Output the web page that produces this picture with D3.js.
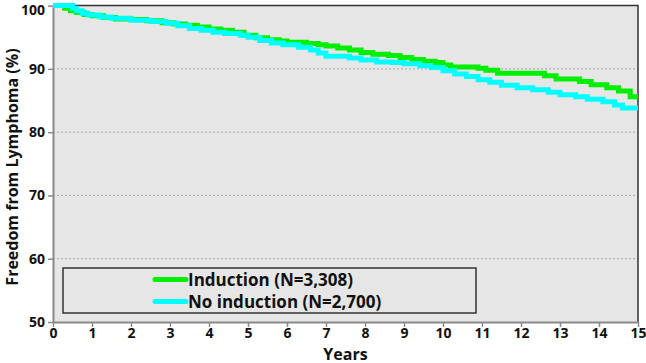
<!DOCTYPE html>
<html><head><meta charset="utf-8">
<script src="https://cdn.jsdelivr.net/npm/d3@7"></script>
<style>body{margin:0;background:#fff}svg{display:block}text{font-family:"Open Sans",Lato,sans-serif;font-weight:bold;fill:#111}</style>
</head><body><svg id="c" width="646" height="363"></svg>
<script>
const seriesNames = ["Induction (N=3,308)", "No induction (N=2,700)"];
const seriesColors = ["#00ee00", "#00ffff"];
const inductionT = [0,0.3,0.45,0.6,0.8,1.0,1.3,1.6,2.0,2.4,2.8,3.1,3.4,3.7,4.0,4.3,4.6,4.9,5.2,5.5,5.8,6.0,6.5,6.8,7.0,7.3,7.6,7.9,8.2,8.6,8.9,9.2,9.5,9.8,10.0,10.2,10.9,11.1,11.4,12.6,12.9,13.5,13.8,14.2,14.5,14.8,15];
const inductionS = [100,99.6,99.2,98.9,98.6,98.4,98.1,97.9,97.8,97.6,97.3,97.1,96.9,96.6,96.3,96.1,95.8,95.3,94.9,94.6,94.4,94.2,94.0,93.8,93.6,93.3,93.0,92.6,92.3,92.1,91.8,91.5,91.2,91.0,90.6,90.3,90.1,89.8,89.3,88.9,88.4,88.0,87.5,87.0,86.5,85.6,85.6];
const noInductionT = [0,0.5,0.6,0.75,0.9,1.2,1.5,2.0,2.5,2.9,3.2,3.5,3.8,4.1,4.4,4.8,5.0,5.3,5.6,5.9,6.3,6.6,6.8,7.0,7.6,7.9,8.3,8.7,9.0,9.4,9.7,10.0,10.3,10.6,10.9,11.2,11.5,11.9,12.3,12.7,13.0,13.4,13.7,14.1,14.4,14.6,15];
const noInductionS = [100,99.6,99.2,98.8,98.5,98.2,98.0,97.7,97.5,97.2,96.8,96.4,96.1,95.8,95.6,95.3,95.0,94.5,94.1,93.8,93.4,93.0,92.5,92.0,91.7,91.4,91.1,91.0,90.8,90.5,90.2,89.7,89.2,88.8,88.3,87.9,87.4,87.0,86.7,86.3,85.9,85.6,85.2,84.8,84.3,83.8,83.8];
const xTicks = d3.range(0,16);
const yTicks = [50,60,70,80,90,100];
const yTitle = "Freedom from Lymphoma (%)";
const xTitle = "Years";

const svg = d3.select("#c");
const L=53, R=638, T=5.6, B=322;
const x = d3.scaleLinear().domain([0,15]).range([L,R]);
const y = d3.scaleLinear().domain([50,100]).range([B,T]);

svg.append("rect").attr("x",L).attr("y",T).attr("width",R-L).attr("height",B-T).attr("fill","#e6e6e6");
svg.append("g").selectAll("line").data(yTicks.filter(d=>d>50&&d<100)).join("line")
  .attr("x1",L).attr("x2",R).attr("y1",d=>y(d)).attr("y2",d=>y(d))
  .attr("stroke","#a8a8a8").attr("stroke-width",1).attr("stroke-dasharray","2,2");
svg.append("path").attr("d",`M${L},${T}H${R}V${B}`).attr("fill","none").attr("stroke","#333").attr("stroke-width",1.5);

const xa = svg.append("g").attr("transform",`translate(0,${B})`).call(d3.axisBottom(x).tickValues(xTicks).tickSize(5).tickSizeOuter(0).tickPadding(1.5));
const ya = svg.append("g").attr("transform",`translate(${L},0)`).call(d3.axisLeft(y).tickValues(yTicks).tickSize(5).tickSizeOuter(0).tickPadding(3));
[xa,ya].forEach(a=>{a.select(".domain").attr("stroke","#8a8a8a").attr("stroke-width",2);
  a.selectAll(".tick line").attr("stroke","#8a8a8a").attr("stroke-width",1.5);
  a.selectAll("text").attr("font-family","'Open Sans',sans-serif").attr("font-weight","bold").attr("font-size",14).attr("fill","#111");});
ya.select(".tick:last-of-type text").attr("dy","0.6em");

const line = d3.line().curve(d3.curveStepAfter).x(d=>x(d[0])).y(d=>y(d[1]));
const data = [d3.zip(inductionT,inductionS), d3.zip(noInductionT,noInductionS)];
svg.append("g").selectAll("path").data(data).join("path")
  .attr("d",line).attr("fill","none").attr("stroke",(d,i)=>seriesColors[i]).attr("stroke-width",5);

svg.append("rect").attr("x",63).attr("y",268).attr("width",413).attr("height",45).attr("fill","none").attr("stroke","#333").attr("stroke-width",1.5);
const lg = svg.append("g").selectAll("g").data(seriesNames).join("g").attr("transform",(d,i)=>`translate(0,${279.5+i*22})`);
lg.append("line").attr("x1",155).attr("x2",186).attr("stroke",(d,i)=>seriesColors[i]).attr("stroke-width",5).attr("stroke-linecap","round");
lg.append("text").attr("x",188).attr("dy","0.36em").attr("font-size",17).text(d=>d);

svg.append("text").attr("x",x(7.5)).attr("y",359.5).attr("text-anchor","middle").attr("font-size",16).text(xTitle);
svg.append("text").attr("transform",`translate(12,167) rotate(-90)`).attr("text-anchor","middle").attr("dy","0.35em")
  .attr("font-family","Lato,sans-serif").attr("font-size",16).attr("font-weight",900).text(yTitle);
</script></body></html>
